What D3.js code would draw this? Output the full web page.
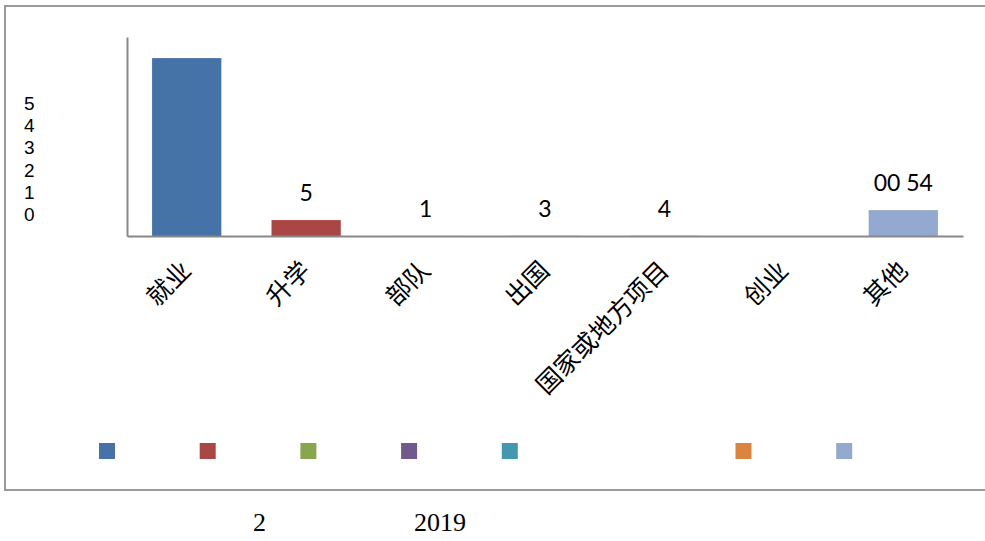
<!DOCTYPE html>
<html>
<head>
<meta charset="utf-8">
<script src="https://cdn.jsdelivr.net/npm/d3@7/dist/d3.min.js"></script>
<style>
  html, body { margin: 0; padding: 0; background: #fff; }
  svg { display: block; }
</style>
</head>
<body>
<svg id="chart" width="985" height="541"></svg>
<script>
// ---- data ----
const categories = ["就业", "升学", "部队", "出国", "国家或地方项目", "创业", "其他"];
const values = [4470, 400, 1, 3, 4, 0, 650];
const dataLabels = ["", "5", "1", "3", "4", "", "00 54"];
const colors = ["#4572A7", "#AA4643", "#89A54E", "#71588F", "#4198AF", "#DB843D", "#93A9CF"];
const yTickLabels = ["5", "4", "3", "2", "1", "0"];
const yMax = 5000;
const footerTexts = ["2", "2019"];

// ---- layout ----
const svg = d3.select("#chart");
const plot = { left: 127, right: 963, top: 37, bottom: 236 };

// frame
svg.append("rect")
  .attr("x", 5).attr("y", 6)
  .attr("width", 1000).attr("height", 484)
  .attr("fill", "none").attr("stroke", "#9a9a9a").attr("stroke-width", 2);

const x = d3.scaleBand()
  .domain(categories)
  .range([plot.left, plot.right])
  .paddingInner(0.42)
  .paddingOuter(0.21);

const y = d3.scaleLinear()
  .domain([0, yMax])
  .range([plot.bottom, plot.top]);

// bars
svg.append("g").selectAll("rect")
  .data(categories)
  .join("rect")
  .attr("x", d => x(d))
  .attr("width", x.bandwidth())
  .attr("y", (d, i) => y(values[i]))
  .attr("height", (d, i) => y(0) - y(values[i]))
  .attr("fill", (d, i) => colors[i]);

// axes (lines only)
svg.append("g")
  .attr("transform", `translate(0,${plot.bottom})`)
  .call(d3.axisBottom(x).tickValues([]).tickSizeOuter(0));
svg.append("g")
  .attr("transform", `translate(${plot.left},0)`)
  .call(d3.axisLeft(y).tickValues([]).tickSizeOuter(0));
svg.selectAll(".domain").attr("stroke", "#888").attr("stroke-width", 2);

// garbled y tick labels stacked at left
const tickPos = d3.scalePoint()
  .domain(yTickLabels)
  .range([110, 221]);
svg.append("g").selectAll("text")
  .data(yTickLabels)
  .join("text")
  .attr("x", 24)
  .attr("y", d => tickPos(d))
  .attr("font-family", "'Liberation Sans', Arial, sans-serif")
  .attr("font-size", 19)
  .attr("fill", "#000")
  .text(d => d);

// data labels
svg.append("g").selectAll("text")
  .data(categories)
  .join("text")
  .attr("x", d => x(d) + x.bandwidth() / 2)
  .attr("y", (d, i) => y(values[i]) - 19)
  .attr("text-anchor", "middle")
  .attr("font-family", "Lato, 'Open Sans', sans-serif")
  .attr("font-size", 23)
  .attr("fill", "#000")
  .text((d, i) => dataLabels[i]);

// category labels, rotated
svg.append("g").selectAll("text")
  .data(categories)
  .join("text")
  .attr("transform", d => `translate(${x(d) + x.bandwidth() / 2 + 6},${plot.bottom + 36}) rotate(-45)`)
  .attr("text-anchor", "end")
  .attr("font-family", "'Noto Sans CJK SC', sans-serif")
  .attr("font-size", 25)
  .attr("fill", "#000")
  .text(d => d);

// legend squares (labels not visible in reference)
let lx = 99;
const legendX = categories.map(c => { const v = lx; lx += 47.5 + 26.6 * c.length; return v; });
svg.append("g").selectAll("rect")
  .data(categories)
  .join("rect")
  .attr("x", (d, i) => legendX[i])
  .attr("y", 443)
  .attr("width", 16).attr("height", 16)
  .attr("fill", (d, i) => colors[i]);

// footer texts
svg.append("g").selectAll("text")
  .data(footerTexts)
  .join("text")
  .attr("x", (d, i) => [253, 414][i])
  .attr("y", 531)
  .attr("font-family", "'Liberation Serif', 'DejaVu Serif', serif")
  .attr("font-size", 26)
  .attr("fill", "#000")
  .text(d => d);
</script>
</body>
</html>
